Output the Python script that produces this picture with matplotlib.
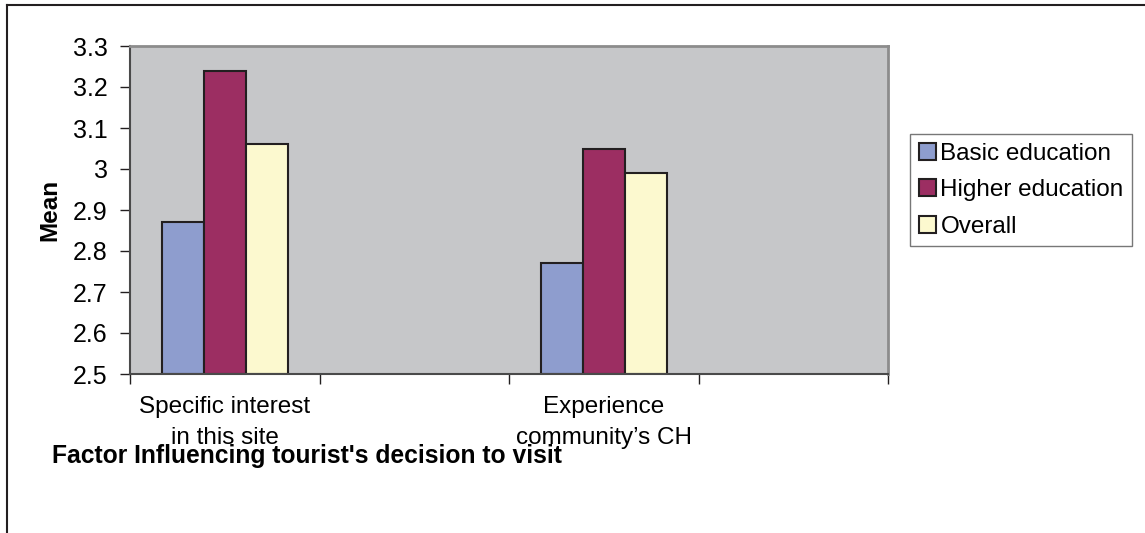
import numpy as np
import matplotlib.pyplot as plt
from matplotlib.lines import Line2D

plt.rcParams['font.family'] = ['Liberation Sans', 'DejaVu Sans']

categories = ['Specific interest\nin this site', '', 'Experience\ncommunity\u2019s CH', '']
series = ['Basic education', 'Higher education', 'Overall']
basic = [2.87, np.nan, 2.77, np.nan]
higher = [3.24, np.nan, 3.05, np.nan]
overall = [3.06, np.nan, 2.99, np.nan]
colors = ['#8E9DCE', '#9C2E62', '#FCF9CF']

fig = plt.figure(figsize=(11.45, 5.33), dpi=100)
ax = fig.add_axes([130 / 1145, 1 - 374 / 533, 758 / 1145, 328 / 533])
ax.set_facecolor('#C6C7C9')

x = np.arange(len(categories)) + 0.5
w = 0.222
for i, (name, vals) in enumerate(zip(series, [basic, higher, overall])):
    vals = np.array(vals)
    ax.bar(x + (i - 1) * w, vals - 2.5, w, bottom=2.5, color=colors[i],
           edgecolor='#231F20', linewidth=1.5, label=name)

ax.set_xlim(0, 4)
ax.set_ylim(2.5, 3.3)
ax.set_yticks(np.arange(2.5, 3.31, 0.1))
ax.set_yticklabels(['2.5', '2.6', '2.7', '2.8', '2.9', '3', '3.1', '3.2', '3.3'])
ax.set_xticks(range(5))
ax.set_xticklabels([])
ax.set_xticks(x, minor=True)
ax.set_xticklabels(categories, minor=True, fontsize=17.5, linespacing=1.5)
ax.tick_params(axis='x', which='minor', length=0, pad=16)
ax.tick_params(axis='x', which='major', length=7, width=1, color='#231F20')
ax.tick_params(axis='y', length=7, width=1, color='#231F20', labelsize=18, pad=9)

for s in ['top', 'right']:
    ax.spines[s].set_color('#8C8C8C')
    ax.spines[s].set_linewidth(2)
for s in ['left', 'bottom']:
    ax.spines[s].set_color('#4A4A4A')
    ax.spines[s].set_linewidth(1.5)

fig.text(50 / 1145, 1 - 210 / 533, 'Mean', rotation=90, fontsize=17.5, fontweight='bold',
         ha='center', va='center')
fig.text(52 / 1145, 1 - 463 / 533, "Factor Influencing tourist's decision to visit",
         fontsize=17.7, fontweight='bold', ha='left', va='baseline')

leg = ax.legend(loc='upper left', bbox_to_anchor=(910 / 1145, 1 - 134 / 533),
                bbox_transform=fig.transFigure, fontsize=17.5, frameon=True, fancybox=False,
                handlelength=0.7, handleheight=0.7, handletextpad=0.2, borderpad=0.35,
                labelspacing=0.6, borderaxespad=0)
leg.get_frame().set_edgecolor('#555555')
leg.get_frame().set_linewidth(1)

fig.add_artist(Line2D([7 / 1145, 7 / 1145], [0, 1 - 5 / 533], color='#231F20', lw=1.5))
fig.add_artist(Line2D([7 / 1145, 1], [1 - 5 / 533, 1 - 5 / 533], color='#231F20', lw=1.5))

fig.savefig('out.png', dpi=100)
